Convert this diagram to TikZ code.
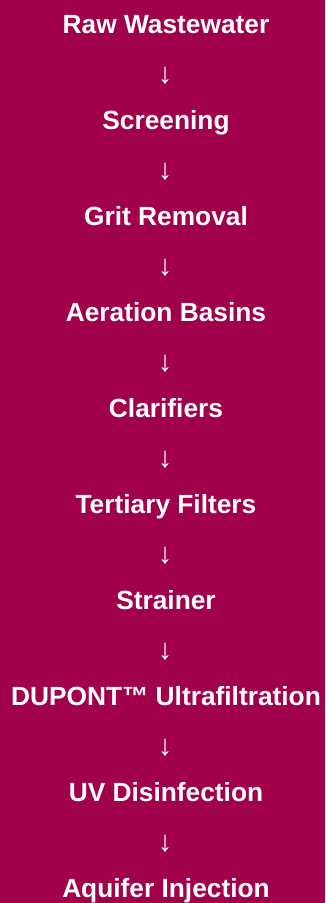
\documentclass[tikz,border=0pt]{standalone}
\usepackage{fontspec}
\setmainfont{Liberation Sans}
\definecolor{bgc}{HTML}{A1004B}
\begin{document}
\begin{tikzpicture}[x=1pt,y=1pt,
  stage/.style={anchor=base,inner sep=0pt,text=white,font=\fontsize{26.3}{30}\selectfont\bfseries},
  flow/.style={anchor=center,inner sep=0pt,text=white,font=\fontsize{29}{32}\selectfont}]
\fill[bgc] (0,0) rectangle (325,-903);
\useasboundingbox (0,0) rectangle (325,-903);
\foreach \t [count=\i from 0] in {Raw Wastewater,Screening,Grit Removal,Aeration Basins,Clarifiers,Tertiary Filters,Strainer,DUPONT™ Ultrafiltration,UV Disinfection,Aquifer Injection}{
  \node[stage] (s\i) at (166,{-33-96*\i}) {\t};
}
\foreach \i in {0,...,8}{
  \node[flow] (a\i) at (165,{-75.5-96*\i}) {↓};
}
\end{tikzpicture}
\end{document}
